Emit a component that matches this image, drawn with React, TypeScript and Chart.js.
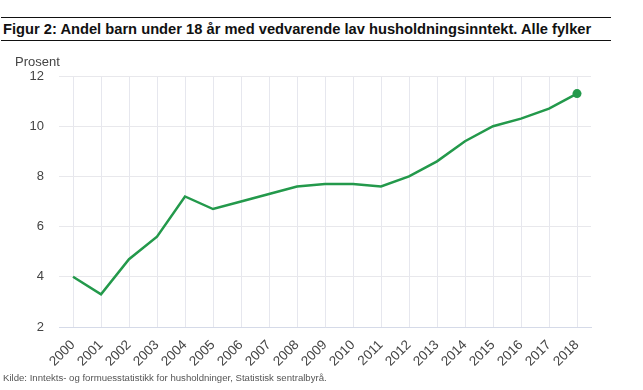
import React, { useEffect, useRef } from "react";
import { Chart, registerables } from "chart.js";

Chart.register(...registerables);

const years = ["2000","2001","2002","2003","2004","2005","2006","2007","2008","2009","2010","2011","2012","2013","2014","2015","2016","2017","2018"];
const shares = [4.0, 3.3, 4.7, 5.6, 7.2, 6.7, 7.0, 7.3, 7.6, 7.7, 7.7, 7.6, 8.0, 8.6, 9.4, 10.0, 10.3, 10.7, 11.3];
const yTicks = [2, 4, 6, 8, 10, 12];

const titleText = "Figur 2: Andel barn under 18 år med vedvarende lav husholdningsinntekt. Alle fylker";
const unitText = "Prosent";
const sourceText = "Kilde: Inntekts- og formuesstatistikk for husholdninger, Statistisk sentralbyrå.";

const FONT = "'Liberation Sans', Arial, sans-serif";

export default function App() {
  const ref = useRef<HTMLCanvasElement | null>(null);

  useEffect(() => {
    if (!ref.current) return;
    const lastIdx = shares.length - 1;
    const chart = new Chart(ref.current, {
      type: "line",
      data: {
        labels: years,
        datasets: [
          {
            data: shares,
            borderColor: "#23994b",
            backgroundColor: "#23994b",
            borderWidth: 2.5,
            tension: 0,
            pointRadius: (ctx: any) => (ctx.dataIndex === lastIdx ? 4.5 : 0),
            pointHoverRadius: 4.5,
            pointBorderWidth: 0,
          },
        ],
      },
      options: {
        animation: false,
        responsive: false,
        devicePixelRatio: 1,
        layout: { padding: { left: 0, top: 76, right: 52, bottom: 13 } },
        plugins: { legend: { display: false }, tooltip: { enabled: false }, title: { display: false } },
        scales: {
          x: {
            type: "category",
            offset: true,
            grid: { color: "#e6e7ee", lineWidth: 1, drawTicks: false, offset: false },
            border: { display: true, color: "#d5dae8", width: 1 },
            ticks: {
              color: "#444",
              font: { family: FONT, size: 13.5 },
              maxRotation: 45,
              minRotation: 45,
              autoSkip: false,
              padding: 10,
            },
            afterFit: (s: any) => { s.height = 50; },
          },
          y: {
            min: 2,
            max: 12,
            afterBuildTicks: (s: any) => { s.ticks = yTicks.map((v) => ({ value: v })); },
            grid: { color: "#e8e8ec", lineWidth: 1, drawTicks: false },
            border: { display: false },
            ticks: {
              color: "#444",
              font: { family: FONT, size: 13 },
              padding: 15,
            },
            afterFit: (s: any) => { s.width = 59; },
          },
        },
      },
    });
    return () => chart.destroy();
  }, []);

  return (
    <div style={{ position: "fixed", left: 0, top: 0, width: 643, height: 390, background: "#fff", fontFamily: FONT }}>
      <div style={{ position: "absolute", left: 1, top: 17, width: 610, height: 0, borderTop: "1.5px solid #111" }} />
      <div style={{ position: "absolute", left: 3, top: 20, fontSize: 14.7, fontWeight: "bold", color: "#111", whiteSpace: "nowrap", lineHeight: "18px" }}>{titleText}</div>
      <div style={{ position: "absolute", left: 1, top: 40, width: 610, height: 0, borderTop: "1.5px solid #111" }} />
      <canvas ref={ref} width={643} height={390} style={{ position: "absolute", left: 0, top: 0, width: 643, height: 390 }} />
      <div style={{ position: "absolute", left: 15, top: 54, fontSize: 13, color: "#444", lineHeight: "16px" }}>{unitText}</div>
      <div style={{ position: "absolute", left: 3, top: 372, fontSize: 9.6, color: "#555", whiteSpace: "nowrap", lineHeight: "12px" }}>{sourceText}</div>
    </div>
  );
}
